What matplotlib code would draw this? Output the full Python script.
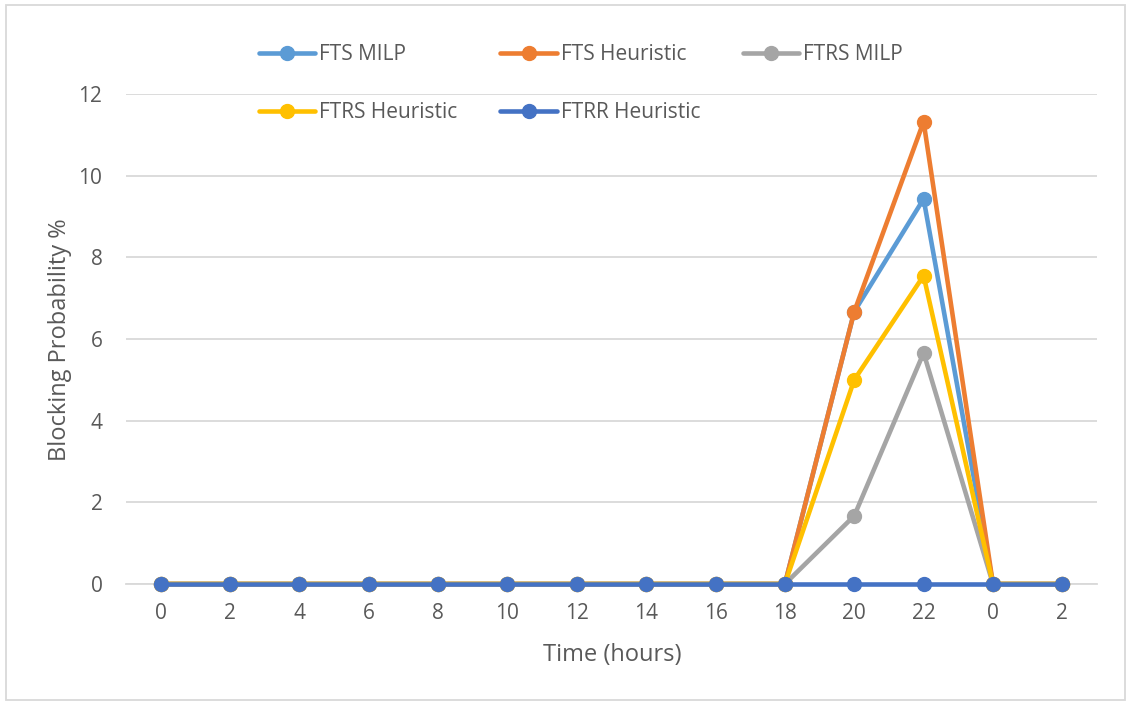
import matplotlib
matplotlib.use("Agg")
import matplotlib.pyplot as plt
from matplotlib.patches import Rectangle

plt.rcParams['font.family'] = ['Open Sans', 'DejaVu Sans']

hours = ["0", "2", "4", "6", "8", "10", "12", "14", "16", "18", "20", "22", "0", "2"]
fts_milp = [0, 0, 0, 0, 0, 0, 0, 0, 0, 0, 6.67, 9.43, 0, 0]
fts_heur = [0, 0, 0, 0, 0, 0, 0, 0, 0, 0, 6.67, 11.32, 0, 0]
ftrs_milp = [0, 0, 0, 0, 0, 0, 0, 0, 0, 0, 1.67, 5.66, 0, 0]
ftrs_heur = [0, 0, 0, 0, 0, 0, 0, 0, 0, 0, 5.0, 7.55, 0, 0]
ftrr_heur = [0, 0, 0, 0, 0, 0, 0, 0, 0, 0, 0, 0, 0, 0]

series = [
    ("FTS MILP", fts_milp, "#5B9BD5"),
    ("FTS Heuristic", fts_heur, "#ED7D31"),
    ("FTRS MILP", ftrs_milp, "#A5A5A5"),
    ("FTRS Heuristic", ftrs_heur, "#FFC000"),
    ("FTRR Heuristic", ftrr_heur, "#4472C4"),
]

W, H = 1128, 702
fig = plt.figure(figsize=(W / 100, H / 100), dpi=100)
ax = fig.add_axes([126 / W, 1 - 584 / H, 971 / W, 490 / H])

text_color = "#595959"
grid_color = "#D9D9D9"

x = list(range(len(hours)))
handles = []
for name, vals, col in series:
    h, = ax.plot(x, vals, color=col, lw=3.3, marker="o", ms=10,
                 solid_joinstyle="round", solid_capstyle="round",
                 label=name, zorder=3, clip_on=False)
    handles.append(h)

ax.set_xlim(-0.5, len(hours) - 0.5)
ax.set_ylim(0, 12)
ax.set_yticks(range(0, 13, 2))
ax.set_xticks(x)
ax.set_xticklabels(hours)
ax.yaxis.grid(True, color=grid_color, lw=1.3, zorder=0)
ax.set_axisbelow(True)
for s in ["top", "right", "left"]:
    ax.spines[s].set_visible(False)
ax.spines["bottom"].set_color(grid_color)
ax.spines["bottom"].set_linewidth(1.3)
ax.tick_params(axis="both", length=0, labelsize=15, colors=text_color)
ax.tick_params(axis="y", pad=17)
ax.tick_params(axis="x", pad=14)

ax.set_xlabel("Time (hours)", fontsize=17, color=text_color)
ax.set_ylabel("Blocking Probability %", fontsize=17, color=text_color)
ax.xaxis.set_label_coords((612 - 126) / 971, (584 - 655) / 490)
ax.yaxis.set_label_coords((60 - 126) / 971, (584 - 340) / 490)
ax.xaxis.label.set_va("center")
ax.yaxis.label.set_va("center")

# legend laid out row by row: matplotlib fills columns first
order = [0, 3, 1, 4, 2]
fig.legend(handles=[handles[i] for i in order], loc="upper left", ncol=3,
           bbox_to_anchor=(259 / W, 1 - 44 / H), frameon=False,
           fontsize=15, labelcolor=text_color, handlelength=2.7,
           handletextpad=0.2, columnspacing=2.05, labelspacing=1.8,
           borderpad=0, borderaxespad=0)

fig.patches.append(Rectangle((6 / W, 2 / H), 1119 / W, 695 / H,
                             transform=fig.transFigure, fill=False,
                             edgecolor=grid_color, lw=1.3))

fig.savefig("out.png", dpi=100, facecolor="white")
